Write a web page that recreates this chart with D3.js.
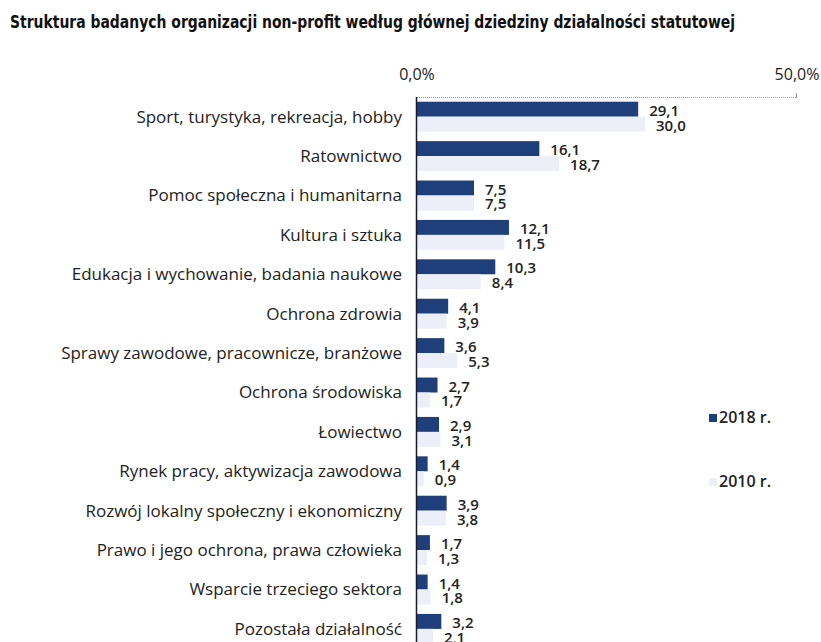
<!DOCTYPE html>
<html>
<head>
<meta charset="utf-8">
<script src="https://d3js.org/d3.v7.min.js"></script>
<style>
  body { margin: 0; background: #fff; }
  text { font-family: "Open Sans", sans-serif; fill: #222; }
</style>
</head>
<body>
<div id="chart"></div>
<script>
// DATA
const categories = [
  "Sport, turystyka, rekreacja, hobby",
  "Ratownictwo",
  "Pomoc społeczna i humanitarna",
  "Kultura i sztuka",
  "Edukacja i wychowanie, badania naukowe",
  "Ochrona zdrowia",
  "Sprawy zawodowe, pracownicze, branżowe",
  "Ochrona środowiska",
  "Łowiectwo",
  "Rynek pracy, aktywizacja zawodowa",
  "Rozwój lokalny społeczny i ekonomiczny",
  "Prawo i jego ochrona, prawa człowieka",
  "Wsparcie trzeciego sektora",
  "Pozostała działalność"
];
const values2018 = [29.1, 16.1, 7.5, 12.1, 10.3, 4.1, 3.6, 2.7, 2.9, 1.4, 3.9, 1.7, 1.4, 3.2];
const values2010 = [30.0, 18.7, 7.5, 11.5, 8.4, 3.9, 5.3, 1.7, 3.1, 0.9, 3.8, 1.3, 1.8, 2.1];
const seriesNames = ["2018 r.", "2010 r."];
const xTicks = [0, 50];

const W = 821, H = 642;
const colors = ["#1f3f7a", "#eceff7"];

const svg = d3.select("#chart").append("svg")
  .attr("width", W).attr("height", H);

// title
svg.append("text")
  .attr("x", 10).attr("y", 28)
  .attr("textLength", 725)
  .attr("lengthAdjust", "spacingAndGlyphs")
  .style("font-family", "'DejaVu Sans Condensed', sans-serif")
  .style("font-weight", "bold")
  .style("font-size", "17px")
  .style("fill", "#111")
  .text("Struktura badanych organizacji non-profit według głównej dziedziny działalności statutowej");

// SCALES
const x = d3.scaleLinear().domain([0, 50]).range([417, 797]);
const y = d3.scaleBand().domain(categories).range([97, 648.6])
  .paddingInner(0.24).paddingOuter(0.12);
const ySub = d3.scaleBand().domain(seriesNames).range([0, y.bandwidth()]);

// top axis (dotted)
svg.append("line")
  .attr("x1", x(0)).attr("x2", x(50))
  .attr("y1", 97.5).attr("y2", 97.5)
  .attr("stroke", "#999").attr("stroke-dasharray", "1,1");
svg.append("line")
  .attr("x1", x(50) - 0.5).attr("x2", x(50) - 0.5)
  .attr("y1", 93).attr("y2", 98)
  .attr("stroke", "#999");

svg.selectAll(".tick-label").data(xTicks).enter()
  .append("text")
  .attr("class", "tick-label")
  .attr("x", d => x(d))
  .attr("y", 80)
  .attr("text-anchor", "middle")
  .style("font-size", "16px")
  .text(d => d3.format(".1f")(d).replace(".", ",") + "%");

// bars
const rows = categories.map((c, i) => ({ cat: c, vals: [values2018[i], values2010[i]] }));

const g = svg.selectAll(".row").data(rows).enter()
  .append("g").attr("class", "row")
  .attr("transform", d => `translate(0,${y(d.cat)})`);

g.selectAll("rect").data(d => d.vals.map((v, k) => ({ v, s: seriesNames[k], k })))
  .enter().append("rect")
  .attr("x", x(0))
  .attr("y", d => ySub(d.s))
  .attr("width", d => x(d.v) - x(0))
  .attr("height", ySub.bandwidth())
  .attr("fill", d => colors[d.k]);

g.selectAll(".val").data(d => d.vals.map((v, k) => ({ v, s: seriesNames[k], k })))
  .enter().append("text")
  .attr("class", "val")
  .attr("x", d => x(d.v) + 11)
  .attr("y", d => ySub(d.s) + ySub.bandwidth() - 1)
  .style("font-size", "15px")
  .style("font-weight", "600")
  .text(d => d3.format(".1f")(d.v).replace(".", ","));

// category labels
g.append("text")
  .attr("x", 402)
  .attr("y", y.bandwidth() / 2 + 6)
  .attr("text-anchor", "end")
  .style("font-size", "17px")
  .text(d => d.cat);

// vertical axis line
svg.append("line")
  .attr("x1", x(0) - 0.5).attr("x2", x(0) - 0.5)
  .attr("y1", 97).attr("y2", H)
  .attr("stroke", "#1a1a2e").attr("stroke-width", 1.5);

// legend
const legend = svg.selectAll(".legend").data(seriesNames).enter()
  .append("g").attr("class", "legend")
  .attr("transform", (d, i) => `translate(709,${414 + i * 64})`);
legend.append("rect").attr("width", 8).attr("height", 8)
  .attr("fill", (d, i) => colors[i]);
legend.append("text").attr("x", 10).attr("y", 9)
  .style("font-size", "16px").style("font-weight", "600")
  .text(d => d);
</script>
</body>
</html>
